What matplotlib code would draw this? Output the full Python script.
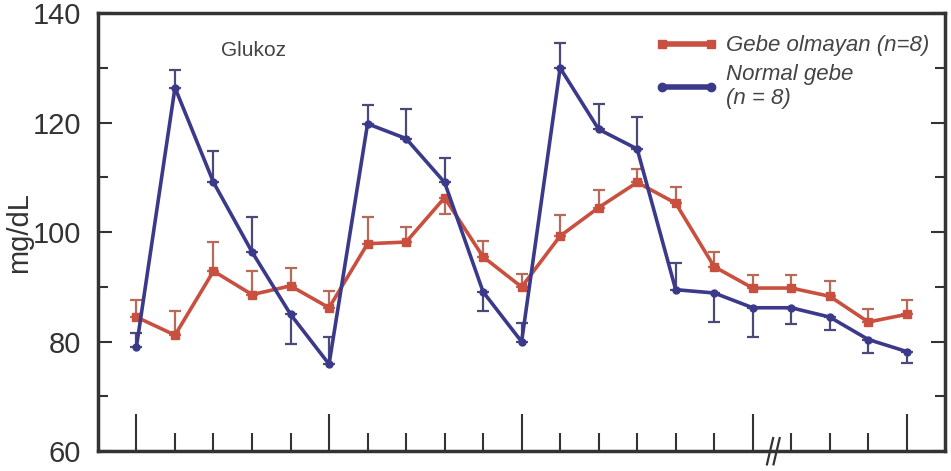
import numpy as np
import matplotlib
matplotlib.use("Agg")
import matplotlib.pyplot as plt
from matplotlib.lines import Line2D

plt.rcParams['font.family'] = ['Liberation Sans', 'DejaVu Sans']

# sample index along x (no labels on the original axis)
x = np.arange(21)
long_ticks = [0, 5, 10, 16, 20]

# Gebe olmayan (red)
red = [84.5, 81.2, 92.9, 88.6, 90.2, 86.2, 97.9, 98.2, 106.3, 95.5, 90.0,
       99.3, 104.5, 109.1, 105.3, 93.7, 89.8, 89.8, 88.3, 83.6, 85.0]
red_lo = [0, 0, 0, 0, 0, 0, 0, 0, 3.0, 0, 0, 0, 0, 0, 0, 0, 0, 0, 0, 0, 0]
red_hi = [3.2, 4.5, 5.3, 4.4, 3.2, 3.1, 4.8, 2.8, 0, 2.9, 2.4,
          3.9, 3.2, 2.5, 2.9, 2.7, 2.4, 2.4, 2.7, 2.3, 2.7]

# Normal gebe (blue)
blue = [79.1, 126.4, 109.1, 96.4, 85.0, 75.9, 119.8, 117.1, 109.1, 89.1, 80.0,
        130.0, 118.8, 115.2, 89.5, 88.9, 86.2, 86.2, 84.5, 80.4, 78.2]
blue_lo = [0, 0, 0, 0, 5.4, 0, 0, 0, 0, 3.5, 0,
           0, 0, 0, 0, 5.3, 5.3, 3.0, 2.4, 2.5, 2.1]
blue_hi = [2.5, 3.2, 5.7, 6.3, 0, 5.0, 3.4, 5.4, 4.5, 0, 3.4,
           4.5, 4.6, 5.8, 4.8, 0, 0, 0, 0, 0, 0]

red_c = '#c9503f'
blue_c = '#3b3a8a'
ink = '#333333'

fig = plt.figure(figsize=(9.51, 4.71), dpi=100)
ax = fig.add_axes([0.103, 0.042, 0.891, 0.93])

ax.errorbar(x, red, yerr=[red_lo, red_hi], color=red_c, lw=2.6, marker='s',
            ms=6, elinewidth=1.6, capsize=4, capthick=1.6, ecolor='#b86a5a',
            zorder=3)
ax.errorbar(x, blue, yerr=[blue_lo, blue_hi], color=blue_c, lw=2.6, marker='o',
            ms=5, elinewidth=1.6, capsize=4, capthick=1.6, ecolor='#4a4a7a',
            zorder=4)

ax.set_xlim(-1, 21)
ax.set_ylim(60, 140)
ax.set_yticks([60, 80, 100, 120, 140])
ax.set_yticks([70, 90, 110, 130], minor=True)
ax.set_xticks(long_ticks)
ax.set_xticks([i for i in x if i not in long_ticks], minor=True)
ax.set_xticklabels([])

ax.tick_params(axis='y', which='major', direction='in', length=10, width=1.5,
               color=ink, labelsize=21, labelcolor=ink, pad=12, right=True)
ax.tick_params(axis='y', which='minor', direction='in', length=7, width=1.5,
               color=ink, right=True)
ax.tick_params(axis='x', which='major', direction='in', length=27, width=1.5,
               color=ink)
ax.tick_params(axis='x', which='minor', direction='in', length=13, width=1.5,
               color=ink)

for s in ax.spines.values():
    s.set_linewidth(2.5)
    s.set_color(ink)

ax.set_ylabel('mg/dL', fontsize=21, color=ink)
ax.yaxis.set_label_coords(-0.077, 0.5)

ax.text(0.145, 0.915, 'Glukoz', transform=ax.transAxes, fontsize=15,
        color='#444444', ha='left', va='center')

# axis break mark
tr = ax.get_xaxis_transform()
for dx in (16.45, 16.62):
    ax.plot([dx - 0.08, dx + 0.08], [-0.03, 0.03], transform=tr,
            color=ink, lw=1.6, clip_on=False)

handles = [Line2D([0], [0], color=red_c, lw=4, marker='s', ms=6),
           Line2D([0], [0], color=blue_c, lw=4, marker='o', ms=6)]
labels = ['Gebe olmayan (n=8)', 'Normal gebe\n(n = 8)']
leg = ax.legend(handles, labels, loc='upper right', bbox_to_anchor=(1.0, 0.985),
                frameon=False, prop={'style': 'italic', 'size': 16},
                handlelength=2.8, handletextpad=0.4, labelspacing=0.35,
                borderaxespad=0.3, numpoints=2)
for t in leg.get_texts():
    t.set_color('#444444')

fig.savefig('out.png', dpi=100)
